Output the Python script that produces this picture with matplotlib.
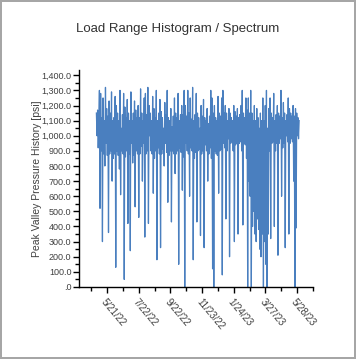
import matplotlib
matplotlib.use("Agg")
import matplotlib.pyplot as plt
import matplotlib.ticker as mticker
import pandas as pd

title = "Load Range Histogram / Spectrum"
ylabel = "Peak Valley Pressure History [psi]"
start_date = "2022-04-30"
end_date = "2023-06-01"
tick_dates = ["2022-05-21", "2022-07-22", "2022-09-22", "2022-11-23",
              "2023-01-24", "2023-03-27", "2023-05-28"]
tick_labels = ["5/21/22", "7/22/22", "9/22/22", "11/23/22", "1/24/23", "3/27/23", "5/28/23"]

seg_a = [1150, 1000, 1170, 920, 1080, 1300, 520, 1280, 900, 1120, 300, 1250, 880, 1100,
         800, 1320, 950, 1180, 870, 1130, 360, 1230, 880, 1150, 900, 1290, 700, 1100,
         850, 1120, 880, 1260, 130, 1200, 900, 1150, 870, 1100, 780, 1300, 610, 1050,
         900, 1140, 880, 1280, 50, 1190, 860, 1120, 900, 1240, 420, 1150, 880, 1100,
         240, 1290, 950, 1100, 820, 1150, 870, 1230, 530, 1170, 900, 1120, 880, 1200,
         460, 1120, 880, 1310, 930, 1150, 700]
seg_b = [1100, 950, 1250, 330, 1280, 880, 1140, 900, 1320, 420, 1200, 1000, 1150, 900,
         1100, 880, 1260, 620, 1180, 850, 1120, 900, 1300, 180, 1100, 920, 1150, 880,
         1240, 260, 1160, 880, 1120, 910, 1050, 800, 1220, 950, 1140, 890, 1300, 560,
         1120, 870, 1100, 900, 1180, 430, 1060, 900, 1130, 880, 1250, 750, 1150, 880,
         1120, 900, 1280, 150, 1100, 920, 1140, 890, 1200, 640, 1140, 860, 1300, 0]
seg_c = [1200, 950, 1130, 900, 1300, 880, 1150, 600, 1250, 920, 1110, 900, 1320, 180,
         1100, 850, 1140, 890, 1280, 430, 1150, 900, 1120, 910, 1050, 340, 1200, 880,
         1130, 900, 1240, 260, 1120, 940, 1100, 900, 1180, 700, 1080, 880, 1130, 920,
         1300, 850, 1250, 120, 1150, 0, 1200, 900, 1120, 880, 1100, 870, 1260, 620,
         1150, 900, 1130, 910]
seg_d = [1250, 80, 1300, 950, 1150, 920, 1200, 450, 1150, 900, 1100, 980, 1180, 200,
         1150, 950, 1120, 960, 1100, 900, 1200, 300, 1160, 940, 1130, 950, 1180, 350,
         1120, 950, 1140, 960, 1200, 900, 1300, 410, 1150, 950, 1120, 940, 1250, 850,
         1170, 0, 1250, 700, 1150, 600, 1300, 0, 1150, 400, 1100, 500, 1200, 350,
         1100, 300, 1180, 450, 1120, 380, 1050, 250]
seg_e = [1150, 200, 1100, 350, 1250, 0, 1100, 300, 1200, 150, 1300, 0, 1050, 350,
         1180, 900, 1250, 320, 1150, 950, 1120, 960, 1280, 400, 1100, 900, 1140, 950,
         1200, 210, 1150, 950, 1130, 980, 1300, 600, 1120, 920, 1220, 950, 1150, 260,
         1100, 1000, 1140, 960, 1250, 350, 1180, 950, 1150, 980, 1130, 960, 1200, 700,
         1130, 0, 1180, 390, 1150, 1000, 1120, 980, 1100]

values = seg_a + seg_b + seg_c + seg_d + seg_e
dates = pd.date_range(start_date, end_date, periods=len(values))

fig = plt.figure(figsize=(3.56, 3.59), dpi=100)
fig.patch.set_facecolor("white")
fig.patch.set_edgecolor("#a6a6a6")
fig.patch.set_linewidth(1.5)

ax = fig.add_axes([0.222, 0.2006, 0.657, 0.6045])
ax.plot(dates, values, color="#4a7fbf", lw=0.9)

ax.set_ylim(0, 1435)
ax.set_xlim(pd.Timestamp("2022-03-27"), pd.Timestamp("2023-06-28"))
ax.yaxis.set_major_locator(mticker.MultipleLocator(100))
ax.yaxis.set_minor_locator(mticker.MultipleLocator(50))

def yfmt(v, pos):
    s = f"{v:,.1f}"
    if s.startswith("0"):
        s = s[1:]
    return s

ax.yaxis.set_major_formatter(mticker.FuncFormatter(yfmt))

tdates = pd.to_datetime(tick_dates)
ax.set_xticks(tdates)
ax.set_xticklabels(tick_labels, rotation=-50, ha="left", va="top",
                   rotation_mode="anchor")
minor = [d - pd.Timedelta(days=31) for d in tdates] + [tdates[-1] + pd.Timedelta(days=31)]
ax.set_xticks(minor, minor=True)

for s in ["top", "right"]:
    ax.spines[s].set_visible(False)
for s in ["left", "bottom"]:
    ax.spines[s].set_color("black")
    ax.spines[s].set_linewidth(1.0)

ax.tick_params(axis="both", which="major", length=4, width=1, color="black",
               labelsize=6.5, labelcolor="#404040")
ax.tick_params(axis="x", which="major", labelsize=7)
ax.tick_params(axis="both", which="minor", length=3, width=1, color="black")
ax.tick_params(axis="x", pad=3)
ax.tick_params(axis="y", pad=1.5)

for lbl in ax.get_xticklabels() + ax.get_yticklabels():
    lbl.set_family("Liberation Sans")

ax.set_ylabel(ylabel, fontsize=7.5, color="#404040", family="Liberation Sans")
ax.yaxis.set_label_coords(-0.16, 0.5)
fig.text(0.5, 0.918, title, ha="center", va="center", fontsize=9.5, color="#333333",
         family="Liberation Sans")

fig.savefig("out.png", dpi=100, facecolor=fig.get_facecolor(), edgecolor=fig.get_edgecolor())
